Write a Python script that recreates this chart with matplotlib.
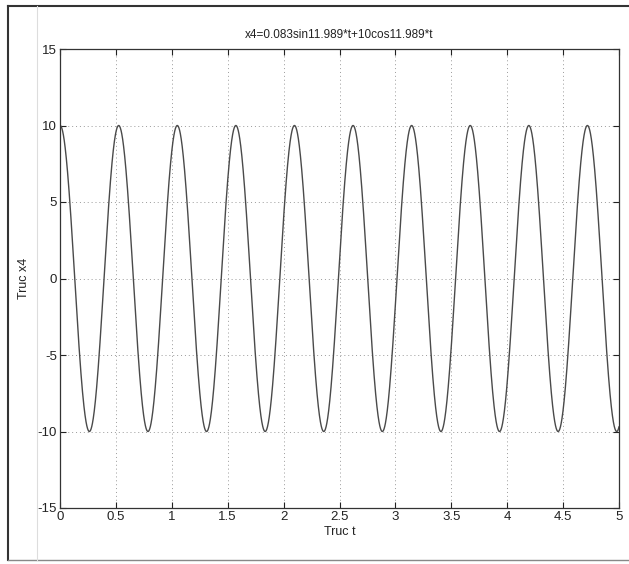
import numpy as np
import matplotlib
matplotlib.use("Agg")
import matplotlib.pyplot as plt
from matplotlib.lines import Line2D

# Coefficients: x4 = 0.083 sin(11.989 t) + 10 cos(11.989 t)
sin_coef = 0.083
cos_coef = 10.0
omega = 11.989
t_start, t_end = 0.0, 5.0

x_ticks = [0, 0.5, 1, 1.5, 2, 2.5, 3, 3.5, 4, 4.5, 5]
x_tick_labels = ["0", "0.5", "1", "1.5", "2", "2.5", "3", "3.5", "4", "4.5", "5"]
y_ticks = [-15, -10, -5, 0, 5, 10, 15]
y_tick_labels = ["-15", "-10", "-5", "0", "5", "10", "15"]

title = "x4=0.083sin11.989*t+10cos11.989*t"
xlabel = "Truc t"
ylabel = "Truc x4"

t = np.linspace(t_start, t_end, 4000)
x4 = sin_coef * np.sin(omega * t) + cos_coef * np.cos(omega * t)

plt.rcParams['font.family'] = ['Liberation Sans', 'DejaVu Sans']

fig = plt.figure(figsize=(6.29, 5.64), dpi=100)
ax = fig.add_axes([60/629, 1-508/564, (619-60)/629, (508-49)/564])

ax.plot(t, x4, color="#4a4a4a", lw=1.0)
ax.set_xlim(0, 5)
ax.set_ylim(-15, 15)
ax.set_xticks(x_ticks)
ax.set_xticklabels(x_tick_labels)
ax.set_yticks(y_ticks)
ax.set_yticklabels(y_tick_labels)
ax.grid(True, linestyle=(0, (1, 3)), color="#9a9a9a", lw=0.7)
ax.tick_params(direction="in", length=4, width=0.8, labelsize=9.5, colors="#222222", pad=2,
               top=True, right=True)
for s in ax.spines.values():
    s.set_color("#333333")
    s.set_linewidth(0.9)

ax.set_title(title, fontsize=8.5, color="#222222", pad=8)
ax.set_xlabel(xlabel, fontsize=9, color="#222222", labelpad=2)
ax.set_ylabel(ylabel, fontsize=9, color="#222222", labelpad=6)

# scan frame
fig.add_artist(Line2D([8/629, 8/629], [1-6/564, 1-560/564], color="#333333", lw=1.5))
fig.add_artist(Line2D([8/629, 1.0], [1-6/564, 1-6/564], color="#333333", lw=1.5))
fig.add_artist(Line2D([8/629, 1.0], [1-560/564, 1-560/564], color="#888888", lw=1.0))
fig.add_artist(Line2D([37/629, 37/629], [1-6/564, 1-560/564], color="#dddddd", lw=0.8))

fig.savefig("out.png", dpi=100)
